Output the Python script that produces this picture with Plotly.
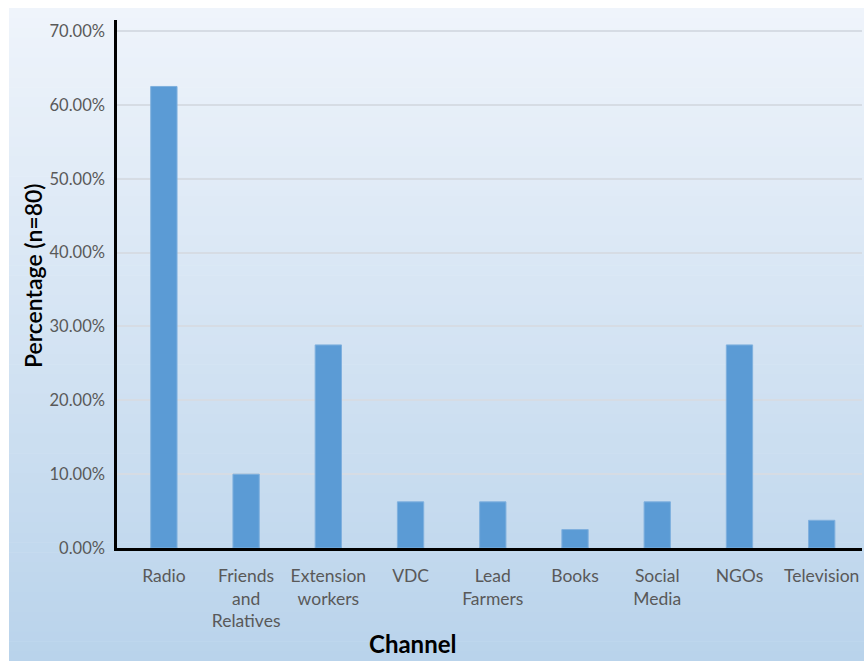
import plotly.graph_objects as go

categories = ["Radio", "Friends<br>and<br>Relatives", "Extension<br>workers", "VDC",
              "Lead<br>Farmers", "Books", "Social<br>Media", "NGOs", "Television"]
values = [0.625, 0.10, 0.275, 0.0625, 0.0625, 0.025, 0.0625, 0.275, 0.0375]
y_ticks = [0, 0.1, 0.2, 0.3, 0.4, 0.5, 0.6, 0.7]

W, H = 864, 661
L, R, T, B = 117, 2, 20, 113
pw, ph = W - L - R, H - T - B

def px_to_paper_x(p):
    return (p - L) / pw

def px_to_paper_y(p):
    return (H - B - p) / ph

# gradient background strips
top_c = (239, 244, 251)
bot_c = (185, 211, 235)
shapes = []
y_start, y_end = 8, H
n = 66
for i in range(n):
    p0 = y_start + (y_end - y_start) * i / n
    p1 = y_start + (y_end - y_start) * (i + 1) / n + 0.6
    t = (i + 0.5) / n
    c = tuple(int(round(top_c[k] + (bot_c[k] - top_c[k]) * t)) for k in range(3))
    shapes.append(dict(type="rect", xref="paper", yref="paper",
                       x0=px_to_paper_x(9), x1=px_to_paper_x(W + 2),
                       y0=px_to_paper_y(p1), y1=px_to_paper_y(p0),
                       fillcolor="rgb(%d,%d,%d)" % c, line=dict(width=0), layer="below"))

fig = go.Figure(go.Bar(x=list(range(len(categories))), y=values,
                       marker=dict(color="#5B9BD5", line=dict(color="#7FB0DE", width=1)),
                       width=0.32))

font_family = "Lato, Open Sans, sans-serif"
fig.update_layout(
    width=W, height=H,
    margin=dict(l=L, r=R, t=T, b=B),
    paper_bgcolor="white",
    plot_bgcolor="rgba(0,0,0,0)",
    shapes=shapes,
    showlegend=False,
    font=dict(family=font_family, color="#595959", size=16),
    xaxis=dict(tickmode="array", tickvals=list(range(len(categories))), ticktext=categories,
               range=[-0.57, 8.49], showline=True, linecolor="black", linewidth=2.5,
               showgrid=False, ticks="", ticklabelstandoff=10,
               tickfont=dict(size=17.5, color="#595959")),
    yaxis=dict(range=[0, 0.715], tickvals=y_ticks, tickformat=".2%",
               showline=True, linecolor="black", linewidth=2.5,
               showgrid=True, gridcolor="#D6DCE4", gridwidth=1.5, zeroline=False,
               ticks="outside", ticklen=6, tickcolor="rgba(0,0,0,0)",
               tickfont=dict(size=16.5, color="#595959")),
    annotations=[
        dict(text="<b>Channel</b>", xref="paper", yref="paper",
             x=px_to_paper_x(412), y=px_to_paper_y(643), xanchor="center", yanchor="middle",
             showarrow=False, font=dict(size=24, color="black", family=font_family)),
        dict(text="Percentage (n=80)", xref="paper", yref="paper",
             x=px_to_paper_x(33), y=px_to_paper_y(276), xanchor="center", yanchor="middle",
             textangle=-90, showarrow=False,
             font=dict(size=23, color="black", family=font_family, weight=600)),
    ],
)

fig.write_html("out.html")
